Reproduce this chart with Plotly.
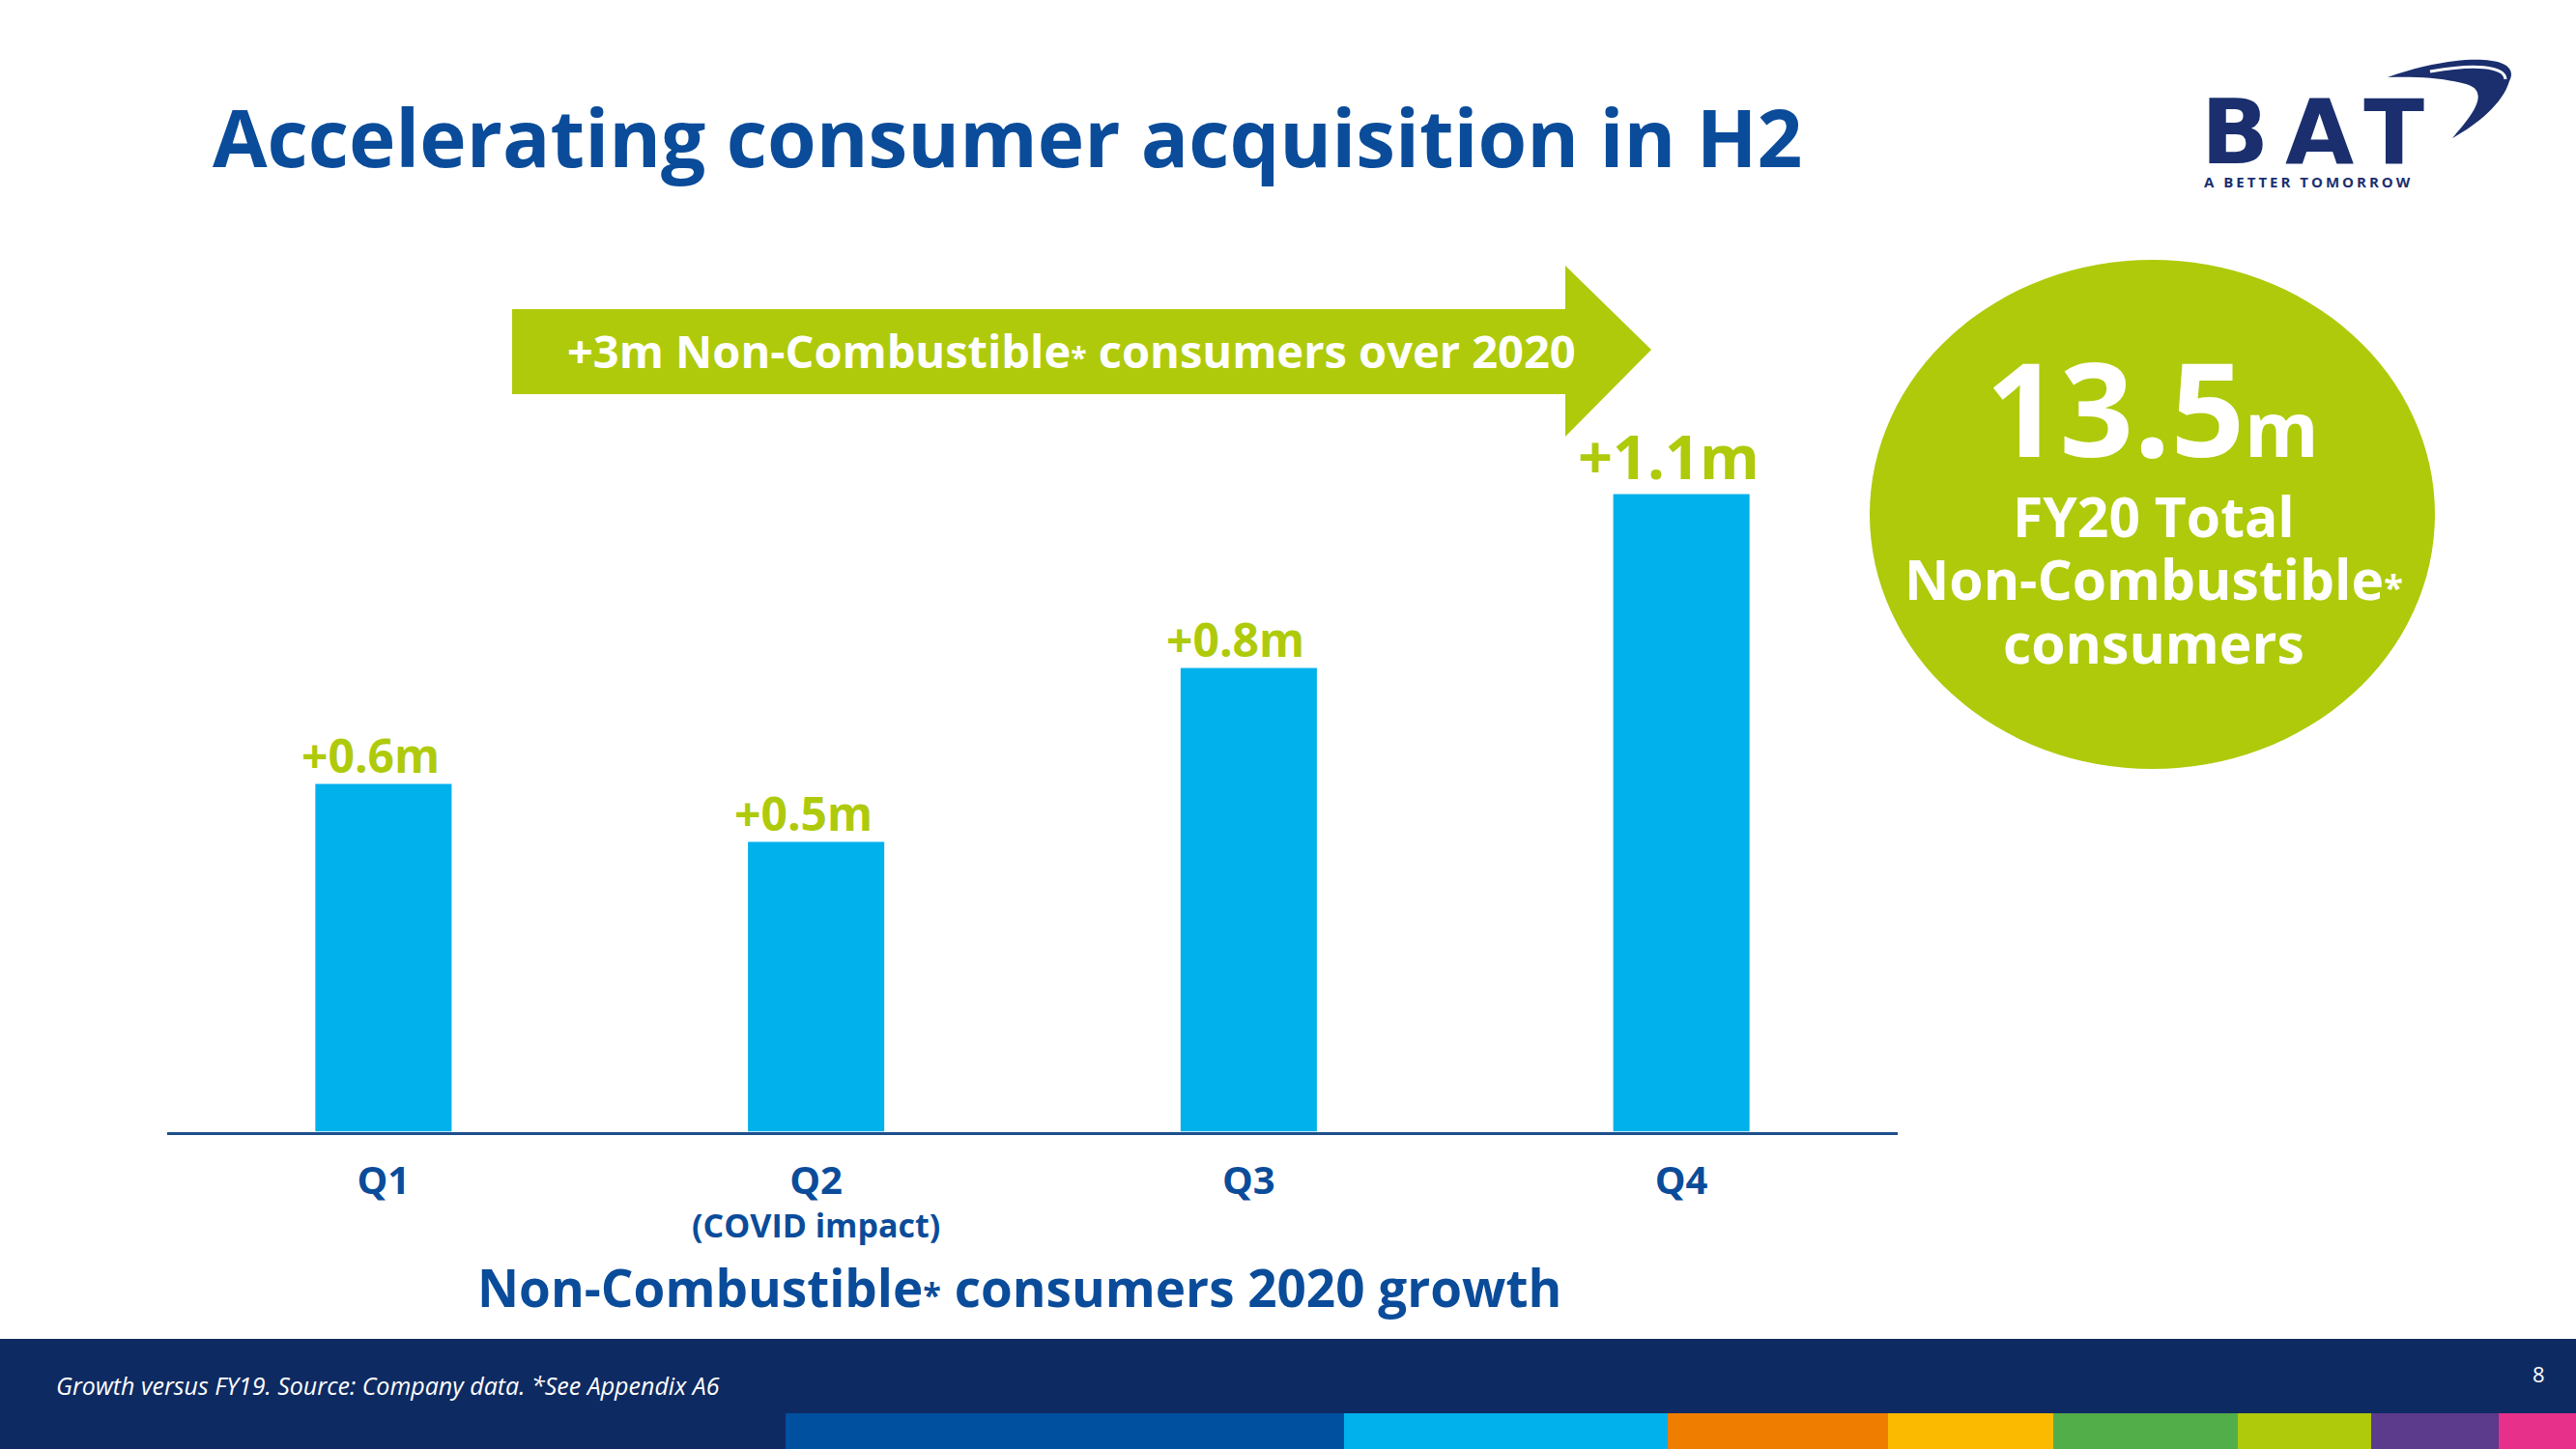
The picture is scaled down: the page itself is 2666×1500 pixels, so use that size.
import plotly.graph_objects as go

W, H = 2666, 1500

# ---- data ----
quarters = ["Q1", "Q2", "Q3", "Q4"]
quarter_notes = ["", "(COVID impact)", "", ""]
growth_m = [0.6, 0.5, 0.8, 1.1]
growth_labels = ["+0.6m", "+0.5m", "+0.8m", "+1.1m"]
label_sizes = [48, 48, 48, 63]

title_text = "Accelerating consumer acquisition in H2"
arrow_text = "+3m Non-Combustible<span style='font-size:30px'>*</span> consumers over 2020"
axis_title = "Non-Combustible<span style='font-size:34px'>*</span> consumers 2020 growth"
total_value = "13.5"
total_unit = "m"
total_lines = ["FY20 Total", "Non-Combustible<span style='font-size:36px'>*</span>", "consumers"]
footnote = "Growth versus FY19. Source: Company data. *See Appendix A6"
page_no = "8"
strip_colors = ["#0050A0", "#00B1EB", "#EF7D00", "#FBBA00", "#52AE49", "#AFCA0B", "#5C3A8C", "#E6308A"]
strip_edges = [813, 1391, 1726, 1954, 2125, 2316, 2454, 2586, 2666]

GREEN = "#AFCA0B"
BLUE_BAR = "#00B1EB"
TITLE_BLUE = "#0A4C9A"
NAVY = "#0E2A62"
LOGO = "#1B2F6E"
FONT = "Open Sans"


def px(x):
    return x / W


def py(y):
    return 1 - y / H


def path(points):
    return "M " + " L ".join(f"{px(x):.5f},{py(y):.5f}" for x, y in points) + " Z"


def cpath(cmds):
    out = []
    for c in cmds:
        out.append(c if isinstance(c, str) else f"{px(c[0]):.5f},{py(c[1]):.5f}")
    return " ".join(out)


fig = go.Figure()

tick_text = []
for q, n in zip(quarters, quarter_notes):
    t = f"<span style='font-size:40px'>{q}</span>"
    if n:
        t += f"<br>{n}"
    tick_text.append(t)

fig.add_trace(go.Bar(
    x=list(range(len(quarters))), y=growth_m, width=0.315,
    marker=dict(color=BLUE_BAR, line=dict(width=0)),
    hoverinfo="skip",
))

for i, (v, lab, s) in enumerate(zip(growth_m, growth_labels, label_sizes)):
    fig.add_annotation(x=i - 0.03, y=v, xref="x", yref="y", text=lab, showarrow=False,
                       yanchor="bottom", yshift=-4,
                       font=dict(family=FONT, size=s, color=GREEN, weight="bold"))

shapes = []
# arrow
shapes.append(dict(type="path", xref="paper", yref="paper",
                   path=path([(530, 320), (1620, 320), (1620, 275), (1709, 362),
                              (1620, 452), (1620, 408), (530, 408)]),
                   fillcolor=GREEN, line=dict(width=0), layer="below"))
# ellipse
shapes.append(dict(type="circle", xref="paper", yref="paper",
                   x0=px(1935), x1=px(2520), y0=py(796), y1=py(269),
                   fillcolor=GREEN, line=dict(width=0), layer="below"))
# footer
shapes.append(dict(type="rect", xref="paper", yref="paper", x0=0, x1=1, y0=0, y1=py(1386),
                   fillcolor=NAVY, line=dict(width=0), layer="below"))
for c, a, b in zip(strip_colors, strip_edges[:-1], strip_edges[1:]):
    shapes.append(dict(type="rect", xref="paper", yref="paper", x0=px(a), x1=px(b),
                       y0=0, y1=py(1463), fillcolor=c, line=dict(width=0), layer="below"))

# logo swoosh
shapes.append(dict(type="path", xref="paper", yref="paper",
                   path=cpath(["M", (2471, 80), "C", (2540, 55), (2612, 55), (2597, 84),
                               "C", (2590, 108), (2562, 130), (2538, 143),
                               "C", (2560, 118), (2580, 92), (2548, 86),
                               "C", (2525, 80), (2495, 79), (2471, 80), "Z"]),
                   fillcolor=LOGO, line=dict(width=0)))
shapes.append(dict(type="path", xref="paper", yref="paper",
                   path=cpath(["M", (2515, 74), "C", (2560, 66), (2592, 68), (2593, 82)]),
                   line=dict(color="white", width=3)))

ann = [
    dict(x=px(218), y=py(141), text=title_text, xanchor="left", yanchor="middle",
         font=dict(family=FONT, size=82, color=TITLE_BLUE, weight="bold")),
    dict(x=px(1109), y=py(363), text=arrow_text, xanchor="center", yanchor="middle",
         font=dict(family=FONT, size=47, color="white", weight="bold")),
    dict(x=px(1055), y=py(1332), text=axis_title, xanchor="center", yanchor="middle",
         font=dict(family=FONT, size=53, color=TITLE_BLUE, weight="bold")),
    dict(x=px(2227), y=py(421),
         text=f"{total_value}<span style='font-size:78px'>{total_unit}</span>",
         xanchor="center", yanchor="middle",
         font=dict(family=FONT, size=134, color="white", weight="bold")),
    dict(x=px(56), y=py(1434), text=f"<i>{footnote}</i>", xanchor="left", yanchor="middle",
         font=dict(family=FONT, size=25, color="white")),
    dict(x=px(2627), y=py(1422), text=page_no, xanchor="center", yanchor="middle",
         font=dict(family=FONT, size=22, color="white")),
    dict(x=px(2276), y=py(138), text="<span style='letter-spacing:17px'>BAT</span>",
         xanchor="left", yanchor="middle",
         font=dict(family="DejaVu Sans", size=92, color=LOGO, weight="bold")),
    dict(x=px(2279), y=py(188),
         text="<span style='letter-spacing:3px'>A BETTER TOMORROW</span>",
         xanchor="left", yanchor="middle",
         font=dict(family=FONT, size=15, color=LOGO, weight="bold")),
]
for ty, line in zip([534, 599, 665], total_lines):
    ann.append(dict(x=px(2229), y=py(ty), text=line, xanchor="center", yanchor="middle",
                    font=dict(family=FONT, size=57, color="white", weight="bold")))
for a in ann:
    a.update(xref="paper", yref="paper", showarrow=False)
    fig.add_annotation(**a)

fig.update_layout(
    width=W, height=H, margin=dict(l=0, r=0, t=0, b=0),
    paper_bgcolor="white", plot_bgcolor="rgba(0,0,0,0)",
    showlegend=False, shapes=shapes,
    xaxis=dict(domain=[px(173), px(1964)], range=[-0.5, 3.5],
               tickmode="array", tickvals=list(range(len(quarters))), ticktext=tick_text,
               showline=True, linecolor="#1D4F8C", linewidth=3, showgrid=False,
               zeroline=False, ticks="", ticklabelstandoff=21,
               tickfont=dict(family=FONT, size=34, color=TITLE_BLUE, weight="bold")),
    yaxis=dict(domain=[1 - 1171.5 / H, 1 - 271.5 / H], range=[0, 1.5], visible=False),
)

fig.write_html("out.html", config={"displayModeBar": False},
               post_script="document.body.style.margin='0px';document.body.style.overflow='hidden';")
